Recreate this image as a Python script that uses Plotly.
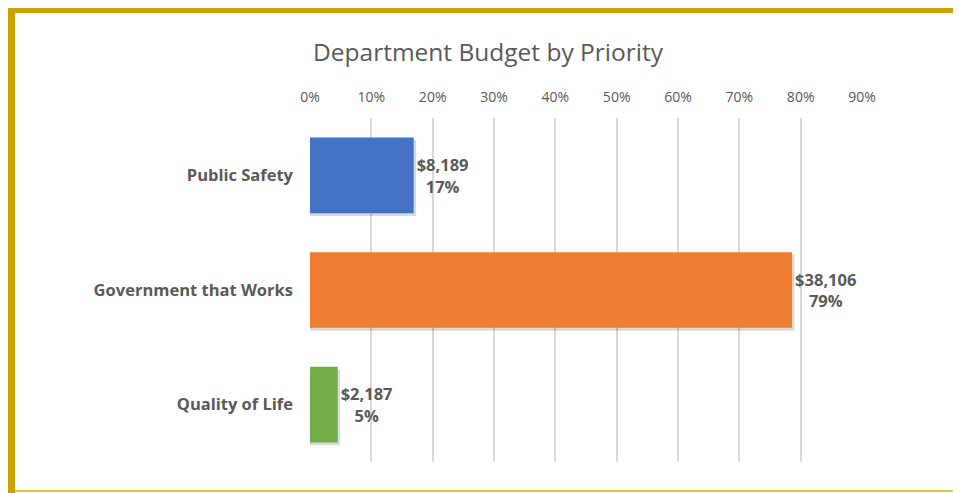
import plotly.graph_objects as go

# Datos del gráfico
categories = ["Public Safety", "Government that Works", "Quality of Life"]
budget = [8189, 38106, 2187]
share = [0.169, 0.786, 0.0451]
bar_colors = ["#4472C4", "#ED7D31", "#70AD47"]
tick_vals = [0, 0.1, 0.2, 0.3, 0.4, 0.5, 0.6, 0.7, 0.8, 0.9]

# La página agrega 8px de margen, se compensa aquí
OFF = 8
W, H = 961, 493
L, R, T, B = 310 - OFF, 99 + OFF, 118 - OFF, 31 + OFF
pw, ph = W - L - R, H - T - B

def px_x(p):
    return (p - OFF - L) / pw

def px_y(p):
    return (H - B - (p - OFF)) / ph

labels = ["<b>${:,}</b><br><b>{:.0%}</b>".format(v, s) for v, s in zip(budget, share)]
font_fam = "Open Sans, Liberation Sans, sans-serif"

fig = go.Figure()

# Sombra de las barras
fig.add_trace(go.Bar(
    y=categories, x=[s + 0.004 for s in share], orientation="h",
    marker=dict(color="rgba(0,0,0,0.15)", line=dict(width=0)),
    width=0.66, hoverinfo="skip", showlegend=False,
    offset=-0.33 + 0.025,
))

fig.add_trace(go.Bar(
    y=categories, x=share, orientation="h",
    marker=dict(color=bar_colors, line=dict(width=0)),
    width=0.66,
    text=labels, textposition="outside", textangle=0,
    textfont=dict(family=font_fam, size=16.5, color="#595959"),
    cliponaxis=False, showlegend=False,
))

fig.update_layout(
    width=W, height=H,
    margin=dict(l=L, r=R, t=T, b=B, autoexpand=False),
    paper_bgcolor="white", plot_bgcolor="white",
    barmode="overlay",
    title=dict(text="Department Budget by Priority", x=(488 - OFF) / W, xanchor="center",
               y=1 - (52 - OFF) / H, yanchor="middle",
               font=dict(family=font_fam, size=24.5, color="#595959")),
    xaxis=dict(side="top", range=[0, 0.9], tickvals=tick_vals, tickformat=".0%",
               showgrid=True, gridcolor="#D9D9D9", gridwidth=1.5, zeroline=False,
               showline=False, ticks="", ticklabelstandoff=12,
               tickfont=dict(family=font_fam, size=14, color="#595959")),
    yaxis=dict(autorange="reversed", showgrid=False, zeroline=False, showline=False,
               ticks="", ticklabelstandoff=16,
               tickfont=dict(family=font_fam, size=16.5, color="#595959"),
               tickprefix="<b>", ticksuffix="</b>"),
)

# Borde dorado
gold = "#C9A400"
fig.add_shape(type="rect", xref="paper", yref="paper", layer="above",
              x0=px_x(8), x1=px_x(15), y0=px_y(501), y1=px_y(4),
              fillcolor=gold, line=dict(width=0))
fig.add_shape(type="rect", xref="paper", yref="paper", layer="above",
              x0=px_x(8), x1=px_x(970), y0=px_y(13), y1=px_y(4),
              fillcolor=gold, line=dict(width=0))
fig.add_shape(type="rect", xref="paper", yref="paper", layer="above",
              x0=px_x(15), x1=px_x(970), y0=px_y(492), y1=px_y(490),
              fillcolor="#E2C63A", line=dict(width=0))

fig.write_html("out.html")
